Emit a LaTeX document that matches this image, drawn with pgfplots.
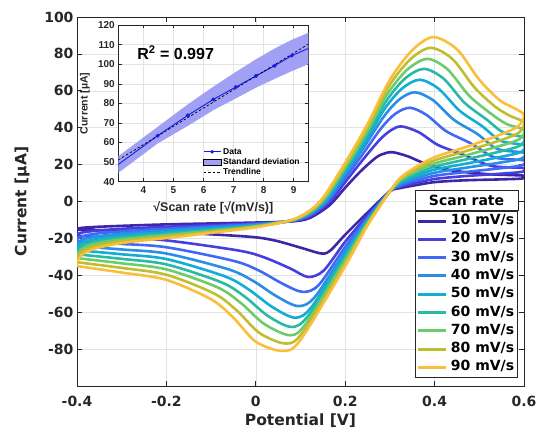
\documentclass[border=0pt]{standalone}
\usepackage{fontspec}
\setmainfont{DejaVu Sans}
\newfontfamily\arialf{Liberation Sans}
\usepackage{pgfplots}
\pgfplotsset{compat=1.18}

\definecolor{c1}{RGB}{62,38,168}
\definecolor{c2}{RGB}{70,62,222}
\definecolor{c3}{RGB}{64,105,246}
\definecolor{c4}{RGB}{42,142,230}
\definecolor{c5}{RGB}{18,172,212}
\definecolor{c6}{RGB}{40,186,165}
\definecolor{c7}{RGB}{110,203,108}
\definecolor{c8}{RGB}{190,190,48}
\definecolor{c9}{RGB}{251,190,58}
\definecolor{axc}{RGB}{38,38,38}
\definecolor{bandc}{RGB}{160,160,245}
\definecolor{datac}{RGB}{25,25,235}

\begin{document}
\begin{tikzpicture}
\path[use as bounding box] (0,0) rectangle (545bp,430bp);

% main cyclic voltammograms
\begin{axis}[
    at={(77bp,44bp)}, anchor=south west,
    scale only axis, width=447bp, height=369bp,
    xmin=-0.4, xmax=0.6, ymin=-100, ymax=100,
    xtick={-0.4,-0.2,0,0.2,0.4,0.6},
    xticklabels={-0.4,-0.2,0,0.2,0.4,0.6},
    ytick={-80,-60,-40,-20,0,20,40,60,80,100},
    yticklabels={-80,-60,-40,-20,0,20,40,60,80,100},
    ticklabel style={font=\fontsize{14bp}{16bp}\selectfont\bfseries, text=axc},
    xticklabel style={yshift=-7bp},
    xlabel={Potential [V]}, ylabel={Current [µA]},
    label style={font=\fontsize{15.5bp}{18bp}\selectfont\bfseries, text=axc},
    xlabel style={at={(rel axis cs:0.5,0)}, anchor=center, yshift=-35bp},
    ylabel style={at={(rel axis cs:0,0.5)}, anchor=center, yshift=55bp},
    grid=major, major grid style={black!11, line width=0.5bp},
    tick align=inside, major tick length=5bp,
    tick style={axc, line width=0.6bp},
    axis line style={axc, line width=0.7bp},
    legend image code/.code={\draw[#1, line width=3bp] (0bp,0bp) -- (28bp,0bp);},
    legend cell align=left,
    legend style={name=leg, at={(0.9866,0.0217)}, anchor=south east,
        draw=axc, line width=0.7bp, fill=white, inner sep=1bp, row sep=0pt,
        column sep=1bp,
        font=\fontsize{14bp}{16bp}\selectfont\bfseries,
        nodes={inner xsep=2.5bp, inner ysep=2.65bp, text height=10bp, text depth=3bp}},
    every axis plot/.append style={line width=2.6bp, smooth, tension=0.5},
]
\addplot[c1] coordinates {
(-0.4,-15.3) (-0.4,-14.8) (-0.39,-14.3) (-0.36,-13.8) (-0.3,-13.2) (-0.2,-12.4) (-0.1,-11.9) (0,-11.4) (0.08,-10.8)
(0.12,-9) (0.165,-2) (0.2,7.5) (0.235,16.5) (0.27,24) (0.29,26.2) (0.307,26.7) (0.34,24.5) (0.38,20.5) (0.44,16.8) (0.52,14.8) (0.6,14)
(0.597,12.5) (0.55,12) (0.47,11.5) (0.4,10.5) (0.35,8.5) (0.322,7.2) (0.3,5.5)
(0.25,-6) (0.2,-18) (0.167,-26.5) (0.147,-28.2) (0.1,-25) (0.04,-21) (-0.02,-19) (-0.2,-16.5) (-0.3,-15.8) (-0.4,-15.3)};
\addlegendentry{10 mV/s}
\addplot[c2] coordinates {
(-0.4,-18.7) (-0.4,-18.0) (-0.39,-16.9) (-0.36,-15.9) (-0.3,-14.8) (-0.2,-13.7) (-0.1,-12.8) (0,-11.9) (0.08,-10.7)
(0.12,-8.1) (0.162,-1.1) (0.2,10.5) (0.238,22.2) (0.277,33.4) (0.303,38.7) (0.326,40.7) (0.365,37.5) (0.407,30.7) (0.464,25.4) (0.527,19.3) (0.6,18.1)
(0.596,16.1) (0.55,15.1) (0.47,13.8) (0.4,12.2) (0.35,9.6) (0.322,7.9) (0.3,5.5)
(0.25,-7.6) (0.2,-21.8) (0.152,-37.4) (0.117,-40.9) (0.078,-36.4) (0.02,-30.4) (-0.038,-26.6) (-0.2,-21.1) (-0.3,-19.8) (-0.4,-18.7)};
\addlegendentry{20 mV/s}
\addplot[c3] coordinates {
(-0.4,-21.6) (-0.4,-20.6) (-0.39,-19.0) (-0.36,-17.5) (-0.3,-16.2) (-0.2,-14.8) (-0.1,-13.5) (0,-12.2) (0.08,-10.5)
(0.12,-7.5) (0.159,-0.5) (0.2,12.7) (0.241,26.3) (0.282,40.2) (0.313,47.7) (0.345,50.8) (0.382,46.9) (0.426,38.1) (0.481,31.5) (0.534,23.9) (0.6,22.3)
(0.595,19.6) (0.55,18.1) (0.47,16) (0.4,13.9) (0.35,10.8) (0.322,8.5) (0.3,5.5)
(0.25,-8.7) (0.2,-24.6) (0.141,-45.2) (0.105,-49) (0.061,-44.7) (0.005,-37.2) (-0.051,-32.1) (-0.2,-24.8) (-0.3,-23.0) (-0.4,-21.6)};
\addlegendentry{30 mV/s}
\addplot[c4] coordinates {
(-0.4,-24.1) (-0.4,-23.0) (-0.39,-20.9) (-0.36,-19.1) (-0.3,-17.4) (-0.2,-15.7) (-0.1,-14.2) (0,-12.6) (0.08,-10.4)
(0.12,-6.9) (0.157,0.1) (0.2,14.6) (0.243,29.8) (0.286,45.9) (0.321,55.3) (0.356,59.2) (0.397,54.8) (0.443,44.3) (0.495,36.7) (0.541,28.4) (0.6,26.4)
(0.594,23.2) (0.55,21.2) (0.47,18.3) (0.4,15.6) (0.35,11.9) (0.322,9.2) (0.3,5.5)
(0.25,-9.7) (0.2,-26.9) (0.132,-51.8) (0.095,-56.7) (0.048,-51.6) (-0.007,-42.9) (-0.062,-36.7) (-0.2,-28.2) (-0.3,-26.0) (-0.4,-24.1)};
\addlegendentry{40 mV/s}
\addplot[c5] coordinates {
(-0.4,-26.4) (-0.4,-25.1) (-0.39,-22.6) (-0.36,-20.4) (-0.3,-18.5) (-0.2,-16.6) (-0.1,-14.8) (0,-12.9) (0.08,-10.3)
(0.12,-6.5) (0.156,0.5) (0.2,16.0) (0.245,32.6) (0.289,50.5) (0.328,61.4) (0.367,66) (0.409,61.1) (0.456,49.2) (0.506,40.9) (0.548,32.9) (0.6,30.5)
(0.593,26.8) (0.55,24.3) (0.47,20.5) (0.4,17.3) (0.35,13) (0.322,9.9) (0.3,5.5)
(0.25,-10.4) (0.2,-28.7) (0.125,-57.1) (0.088,-63) (0.037,-57.2) (-0.017,-47.5) (-0.07,-40.5) (-0.2,-31.2) (-0.3,-28.6) (-0.4,-26.4)};
\addlegendentry{50 mV/s}
\addplot[c6] coordinates {
(-0.4,-28.6) (-0.4,-27.1) (-0.39,-24.2) (-0.36,-21.7) (-0.3,-19.5) (-0.2,-17.4) (-0.1,-15.4) (0,-13.2) (0.08,-10.3)
(0.12,-6.1) (0.154,0.9) (0.2,17.3) (0.246,35.0) (0.292,54.5) (0.334,66.7) (0.376,71.9) (0.42,66.6) (0.467,53.5) (0.516,44.5) (0.554,37.4) (0.6,34.6)
(0.591,30.3) (0.55,27.3) (0.47,22.8) (0.4,18.9) (0.35,14.1) (0.322,10.5) (0.3,5.5)
(0.25,-11.1) (0.2,-30.3) (0.118,-61.7) (0.08,-68) (0.027,-62.0) (-0.025,-51.5) (-0.078,-43.7) (-0.2,-34.1) (-0.3,-31.1) (-0.4,-28.6)};
\addlegendentry{60 mV/s}
\addplot[c7] coordinates {
(-0.4,-30.7) (-0.4,-29.0) (-0.39,-25.8) (-0.36,-22.9) (-0.3,-20.5) (-0.2,-18.2) (-0.1,-15.9) (0,-13.4) (0.08,-10.2)
(0.12,-5.8) (0.153,1.3) (0.2,18.5) (0.247,37.2) (0.294,58.1) (0.339,71.5) (0.384,77.3) (0.429,71.6) (0.477,57.4) (0.525,47.8) (0.561,42.0) (0.6,38.8)
(0.59,33.9) (0.55,30.4) (0.47,25) (0.4,20.6) (0.35,15.3) (0.322,11.2) (0.3,5.5)
(0.25,-11.7) (0.2,-31.8) (0.113,-65.9) (0.077,-72.5) (0.019,-66.4) (-0.033,-55.1) (-0.085,-46.6) (-0.2,-36.8) (-0.3,-33.5) (-0.4,-30.7)};
\addlegendentry{70 mV/s}
\addplot[c8] coordinates {
(-0.4,-32.9) (-0.4,-31.0) (-0.39,-27.4) (-0.36,-24.2) (-0.3,-21.5) (-0.2,-19.0) (-0.1,-16.5) (0,-13.7) (0.08,-10.1)
(0.12,-5.4) (0.151,1.6) (0.2,19.8) (0.249,39.7) (0.297,62.2) (0.345,76.9) (0.391,83.3) (0.44,77.2) (0.489,61.9) (0.535,51.5) (0.568,46.5) (0.6,42.9)
(0.589,37.4) (0.55,33.4) (0.47,27.3) (0.4,22.3) (0.35,16.4) (0.322,11.8) (0.3,5.5)
(0.25,-12.4) (0.2,-33.5) (0.106,-70.6) (0.068,-77) (0.009,-71.4) (-0.042,-59.2) (-0.093,-49.9) (-0.2,-39.7) (-0.3,-36.0) (-0.4,-32.9)};
\addlegendentry{80 mV/s}
\addplot[c9] coordinates {
(-0.4,-35) (-0.4,-33) (-0.39,-29) (-0.36,-25.5) (-0.3,-22.5) (-0.2,-19.8) (-0.1,-17) (0,-14) (0.08,-10)
(0.12,-5) (0.15,2) (0.2,21) (0.25,42) (0.3,66) (0.35,82) (0.397,89.1) (0.45,82.5) (0.5,66) (0.545,55) (0.575,51) (0.6,47)
(0.588,41) (0.55,36.5) (0.47,29.5) (0.4,24) (0.35,17.5) (0.322,12.5) (0.3,5.5)
(0.25,-13) (0.2,-35) (0.1,-75) (0.06,-81) (0,-76) (-0.05,-63) (-0.1,-53) (-0.2,-42.5) (-0.3,-38.5) (-0.4,-35)};
\addlegendentry{90 mV/s}
\end{axis}

% legend title cell
\draw[axc, line width=0.7bp, fill=white] (leg.north west) rectangle ([yshift=20bp]leg.north east);
\node[font=\fontsize{14bp}{16bp}\selectfont\bfseries, text=black] at ([yshift=10bp]leg.north) {Scan rate};

% inset: peak current vs sqrt(scan rate)
\begin{axis}[
    at={(118.3bp,248.3bp)}, anchor=south west,
    scale only axis, width=190bp, height=156.7bp,
    xmin=3.1623, xmax=9.4868, ymin=40, ymax=120,
    xtick={4,5,6,7,8,9}, ytick={40,50,60,70,80,90,100,110,120},
    axis background/.style={fill=white},
    /pgf/number format/assume math mode=true,
    ticklabel style={font=\arialf\fontsize{10bp}{12bp}\selectfont\bfseries, text=axc},
    xticklabel style={yshift=-1bp},
    xlabel={√Scan rate [√(mV/s)]}, ylabel={Current [µA]},
    xlabel style={font=\arialf\fontsize{12.5bp}{14bp}\selectfont\bfseries, text=axc,
        at={(rel axis cs:0.5,0)}, anchor=center, yshift=-25.8bp},
    ylabel style={font=\arialf\fontsize{10.5bp}{12bp}\selectfont\bfseries, text=axc,
        at={(rel axis cs:0,0.5)}, anchor=center, yshift=33.3bp},
    grid=major, major grid style={black!11, line width=0.5bp},
    tick align=inside, major tick length=3.5bp,
    tick style={axc, line width=0.5bp},
    axis line style={axc, line width=0.7bp},
    legend cell align=left,
    legend style={at={(0.446,0.228)}, anchor=north west, draw=none, fill=none,
        inner sep=0pt, row sep=-1.2bp,
        font=\arialf\fontsize{8.5bp}{9.5bp}\selectfont\bfseries},
]
\addplot[datac, line width=0.9bp, mark=*, mark size=1.3bp] coordinates {
(3.162,48.8) (4.472,63.5) (5.477,73.9) (6.325,82) (7.071,88.3) (7.746,94) (8.367,99.2) (8.944,104.4) (9.487,108)};
\addlegendentry{Data}
\addplot[fill=bandc, draw=none, area legend] coordinates {
(3.162,53) (4.472,68) (5.477,79.5) (6.325,88.5) (7.071,96) (7.746,102.5) (8.367,108) (8.944,112.5) (9.487,116)
(9.487,100) (8.944,96.5) (8.367,92.5) (7.746,88) (7.071,82.5) (6.325,76.5) (5.477,68.5) (4.472,59.5) (3.162,44.5)} -- cycle;
\addlegendentry{Standard deviation}
\addplot[datac, line width=0.9bp, mark=*, mark size=1.3bp, forget plot] coordinates {
(3.162,48.8) (4.472,63.5) (5.477,73.9) (6.325,82) (7.071,88.3) (7.746,94) (8.367,99.2) (8.944,104.4) (9.487,108)};
\addplot[black, line width=0.7bp, dash pattern=on 2.5bp off 2bp] coordinates {
(3.162,51.1) (9.487,110.2)};
\addlegendentry{Trendline}
\node[anchor=west, font=\arialf\fontsize{16bp}{18bp}\selectfont\bfseries, text=black]
    at (axis cs:3.68,105.7) {R\textsuperscript{2} = 0.997};
\end{axis}
\end{tikzpicture}
\end{document}
